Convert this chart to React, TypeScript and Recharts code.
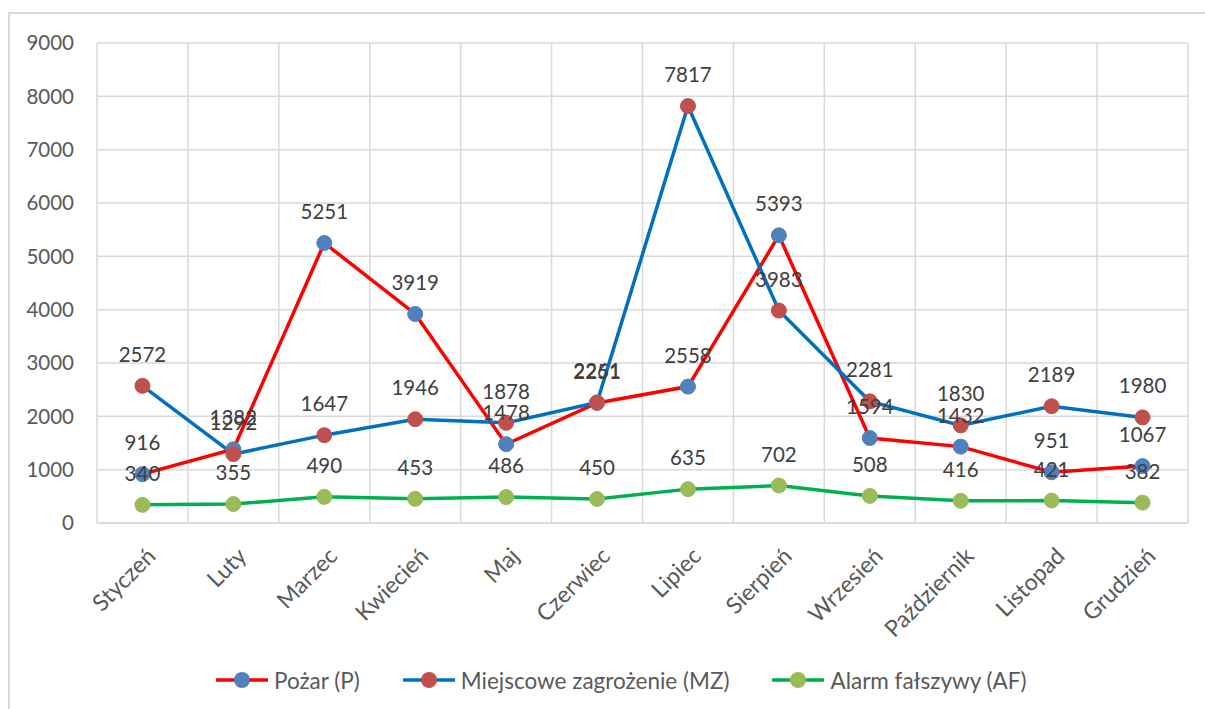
import React from 'react';
import { LineChart, Line, XAxis, YAxis, CartesianGrid, Legend, LabelList } from 'recharts';

const categories = ['Styczeń', 'Luty', 'Marzec', 'Kwiecień', 'Maj', 'Czerwiec', 'Lipiec', 'Sierpień', 'Wrzesień', 'Październik', 'Listopad', 'Grudzień'];
const pozar = [916, 1382, 5251, 3919, 1478, 2251, 2558, 5393, 1594, 1432, 951, 1067];
const mz = [2572, 1292, 1647, 1946, 1878, 2261, 7817, 3983, 2281, 1830, 2189, 1980];
const af = [340, 355, 490, 453, 486, 450, 635, 702, 508, 416, 421, 382];
const yTicks = [0, 1000, 2000, 3000, 4000, 5000, 6000, 7000, 8000, 9000];

const seriesInfo = [
  { key: 'pozar', name: 'Pożar (P)', line: '#FF0000', marker: '#4F81BD' },
  { key: 'mz', name: 'Miejscowe zagrożenie (MZ)', line: '#0070C0', marker: '#C0504D' },
  { key: 'af', name: 'Alarm fałszywy (AF)', line: '#00B050', marker: '#9BBB59' },
];

const data = categories.map((c, i) => ({ month: c, pozar: pozar[i], mz: mz[i], af: af[i] }));

const FONT = 'Lato, "Open Sans", sans-serif';
const W = 1195;
const H = 695;
const margin = { top: 29, right: 17, bottom: 9, left: 27 };
const Y_AXIS_W = 60;
const plotW = W - margin.left - margin.right - Y_AXIS_W;
const halfBand = plotW / 24;

const XTick = (props: any) => {
  const { x, y, payload } = props;
  return (
    <g transform={`translate(${x + 3},${y})`}>
      <text transform="rotate(-45)" textAnchor="end" dy="0.71em" fill="#595959" fontSize={23} fontFamily={FONT}>
        {payload.value}
      </text>
    </g>
  );
};

const renderLegend = () => (
  <div style={{ display: 'flex', alignItems: 'center', height: 40, paddingLeft: 206, fontFamily: FONT, fontSize: 22.5, color: '#595959' }}>
    {seriesInfo.map((s, i) => (
      <div key={s.key} style={{ display: 'flex', alignItems: 'center', marginLeft: i ? 43 : 0 }}>
        <svg width={52} height={18}>
          <line x1={0} y1={9} x2={52} y2={9} stroke={s.line} strokeWidth={3.5} />
          <circle cx={26} cy={9} r={8} fill={s.marker} />
        </svg>
        <span style={{ marginLeft: 6, whiteSpace: 'nowrap' }}>{s.name}</span>
      </div>
    ))}
  </div>
);

export default function App() {
  return (
    <div style={{ position: 'absolute', left: 8, top: 12, width: W, height: H, borderLeft: '2px solid #D9D9D9', borderTop: '2px solid #D9D9D9', background: '#fff' }}>
      <LineChart width={W} height={H} data={data} margin={margin}>
        <CartesianGrid
          stroke="#D9D9D9"
          strokeWidth={1.5}
          verticalCoordinatesGenerator={({ offset }: any) =>
            Array.from({ length: 13 }, (_, i) => offset.left + (offset.width * i) / 12)
          }
        />
        <XAxis
          dataKey="month"
          height={137}
          padding={{ left: halfBand, right: halfBand }}
          tick={<XTick />}
          tickLine={false}
          tickSize={0}
          tickMargin={23}
          interval={0}
          axisLine={{ stroke: '#D9D9D9', strokeWidth: 1.5 }}
        />
        <YAxis
          width={Y_AXIS_W}
          domain={[0, 9000]}
          ticks={yTicks}
          tickLine={false}
          tickSize={0}
          tickMargin={23}
          axisLine={false}
          tick={{ fill: '#595959', fontSize: 20.5, fontFamily: FONT }}
        />
        <Legend verticalAlign="bottom" height={40} content={renderLegend} wrapperStyle={{ left: 0, width: W }} />
        {seriesInfo.map((s) => (
          <Line
            key={s.key}
            dataKey={s.key}
            name={s.name}
            stroke={s.line}
            strokeWidth={3.5}
            dot={{ r: 7.5, fill: s.marker, stroke: s.marker, strokeWidth: 1 }}
            activeDot={false}
            isAnimationActive={false}
          >
            <LabelList dataKey={s.key} position="top" offset={24} fill="#404040" fontSize={20.5} fontFamily={FONT} />
          </Line>
        ))}
      </LineChart>
    </div>
  );
}
